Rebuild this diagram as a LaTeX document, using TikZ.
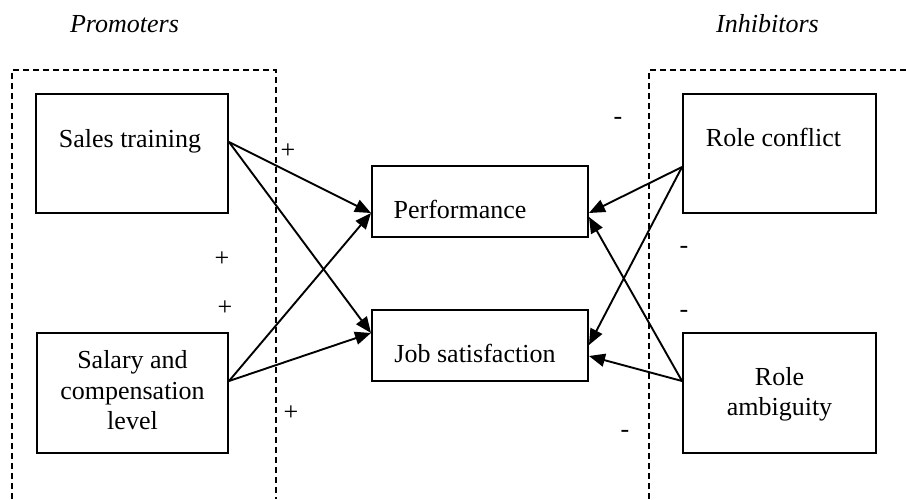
\documentclass[tikz,border=0pt]{standalone}
\usepackage{fontspec}
\setmainfont{Liberation Serif}
\usetikzlibrary{arrows.meta}
\begin{document}
\begin{tikzpicture}[x=1pt,y=-1pt,
  box/.style={draw,line width=2pt,inner sep=0pt},
  lbl/.style={font=\fontsize{26}{30.5}\selectfont,inner sep=0pt},
  sign/.style={font=\fontsize{26}{30.5}\selectfont,inner sep=0pt,anchor=base},
  arr/.style={line width=1.9pt,-{Triangle[length=16pt,width=13pt]}},
  grp/.style={line width=1.5pt,dash pattern=on 6pt off 4pt}]
\useasboundingbox (0,0) rectangle (906,499);
% group boxes
\draw[grp] (12,499) -- (12,70) -- (276,70) -- (276,499);
\draw[grp] (649,499) -- (649,70) -- (906,70);
\node[lbl,anchor=base,font=\fontsize{26}{30.5}\selectfont\itshape] (prom) at (124.5,32) {Promoters};
\node[lbl,anchor=base,font=\fontsize{26}{30.5}\selectfont\itshape] (inh) at (767.5,32) {Inhibitors};
% boxes
\node[box,minimum width=192pt,minimum height=119pt] (st) at (132,153.5) {};
\node[box,minimum width=191pt,minimum height=120pt] (sal) at (132.5,393) {};
\node[box,minimum width=216pt,minimum height=71pt] (perf) at (480,201.5) {};
\node[box,minimum width=216pt,minimum height=71pt] (job) at (480,345.5) {};
\node[box,minimum width=193pt,minimum height=119pt] (rc) at (779.5,153.5) {};
\node[box,minimum width=193pt,minimum height=120pt] (ra) at (779.5,393) {};
% texts
\node[lbl,anchor=base] (stt) at (130,147) {Sales training};
\node[lbl,align=center] (salt) at (132.5,390.5) {Salary and\\compensation\\level};
\node[lbl,anchor=base] (perft) at (460,218) {Performance};
\node[lbl,anchor=base] (jobt) at (475,362) {Job satisfaction};
\node[lbl,anchor=base] (rct) at (773.5,146) {Role conflict};
\node[lbl,align=center] (rat) at (779.5,394.4) {Role\\ambiguity};
% connectors
\draw[arr] ([yshift=11.5pt]st.east) -- ([yshift=-11.5pt]perf.west);
\draw[arr] ([yshift=11.5pt]st.east) -- ([yshift=12.5pt]job.west);
\draw[arr] ([yshift=12pt]sal.east) -- ([yshift=-11.5pt]perf.west);
\draw[arr] ([yshift=12pt]sal.east) -- ([yshift=12.5pt]job.west);
\draw[arr] ([yshift=-13.5pt]rc.west) -- ([yshift=-11.5pt]perf.east);
\draw[arr] ([yshift=-13.5pt]rc.west) -- ([yshift=0.5pt]job.east);
\draw[arr] ([yshift=12pt]ra.west) -- ([yshift=-15.5pt]perf.east);
\draw[arr] ([yshift=12pt]ra.west) -- ([yshift=-10.5pt]job.east);
% signs
\node[sign] (p1) at (288,158.5) {+};
\node[sign] (p2) at (222,266.5) {+};
\node[sign] (p3) at (225,315.5) {+};
\node[sign] (p4) at (291,420.5) {+};
\node[sign] (m1) at (618,124.5) {-};
\node[sign] (m2) at (684,253.5) {-};
\node[sign] (m3) at (684,317.5) {-};
\node[sign] (m4) at (625,437.5) {-};
\end{tikzpicture}
\end{document}
